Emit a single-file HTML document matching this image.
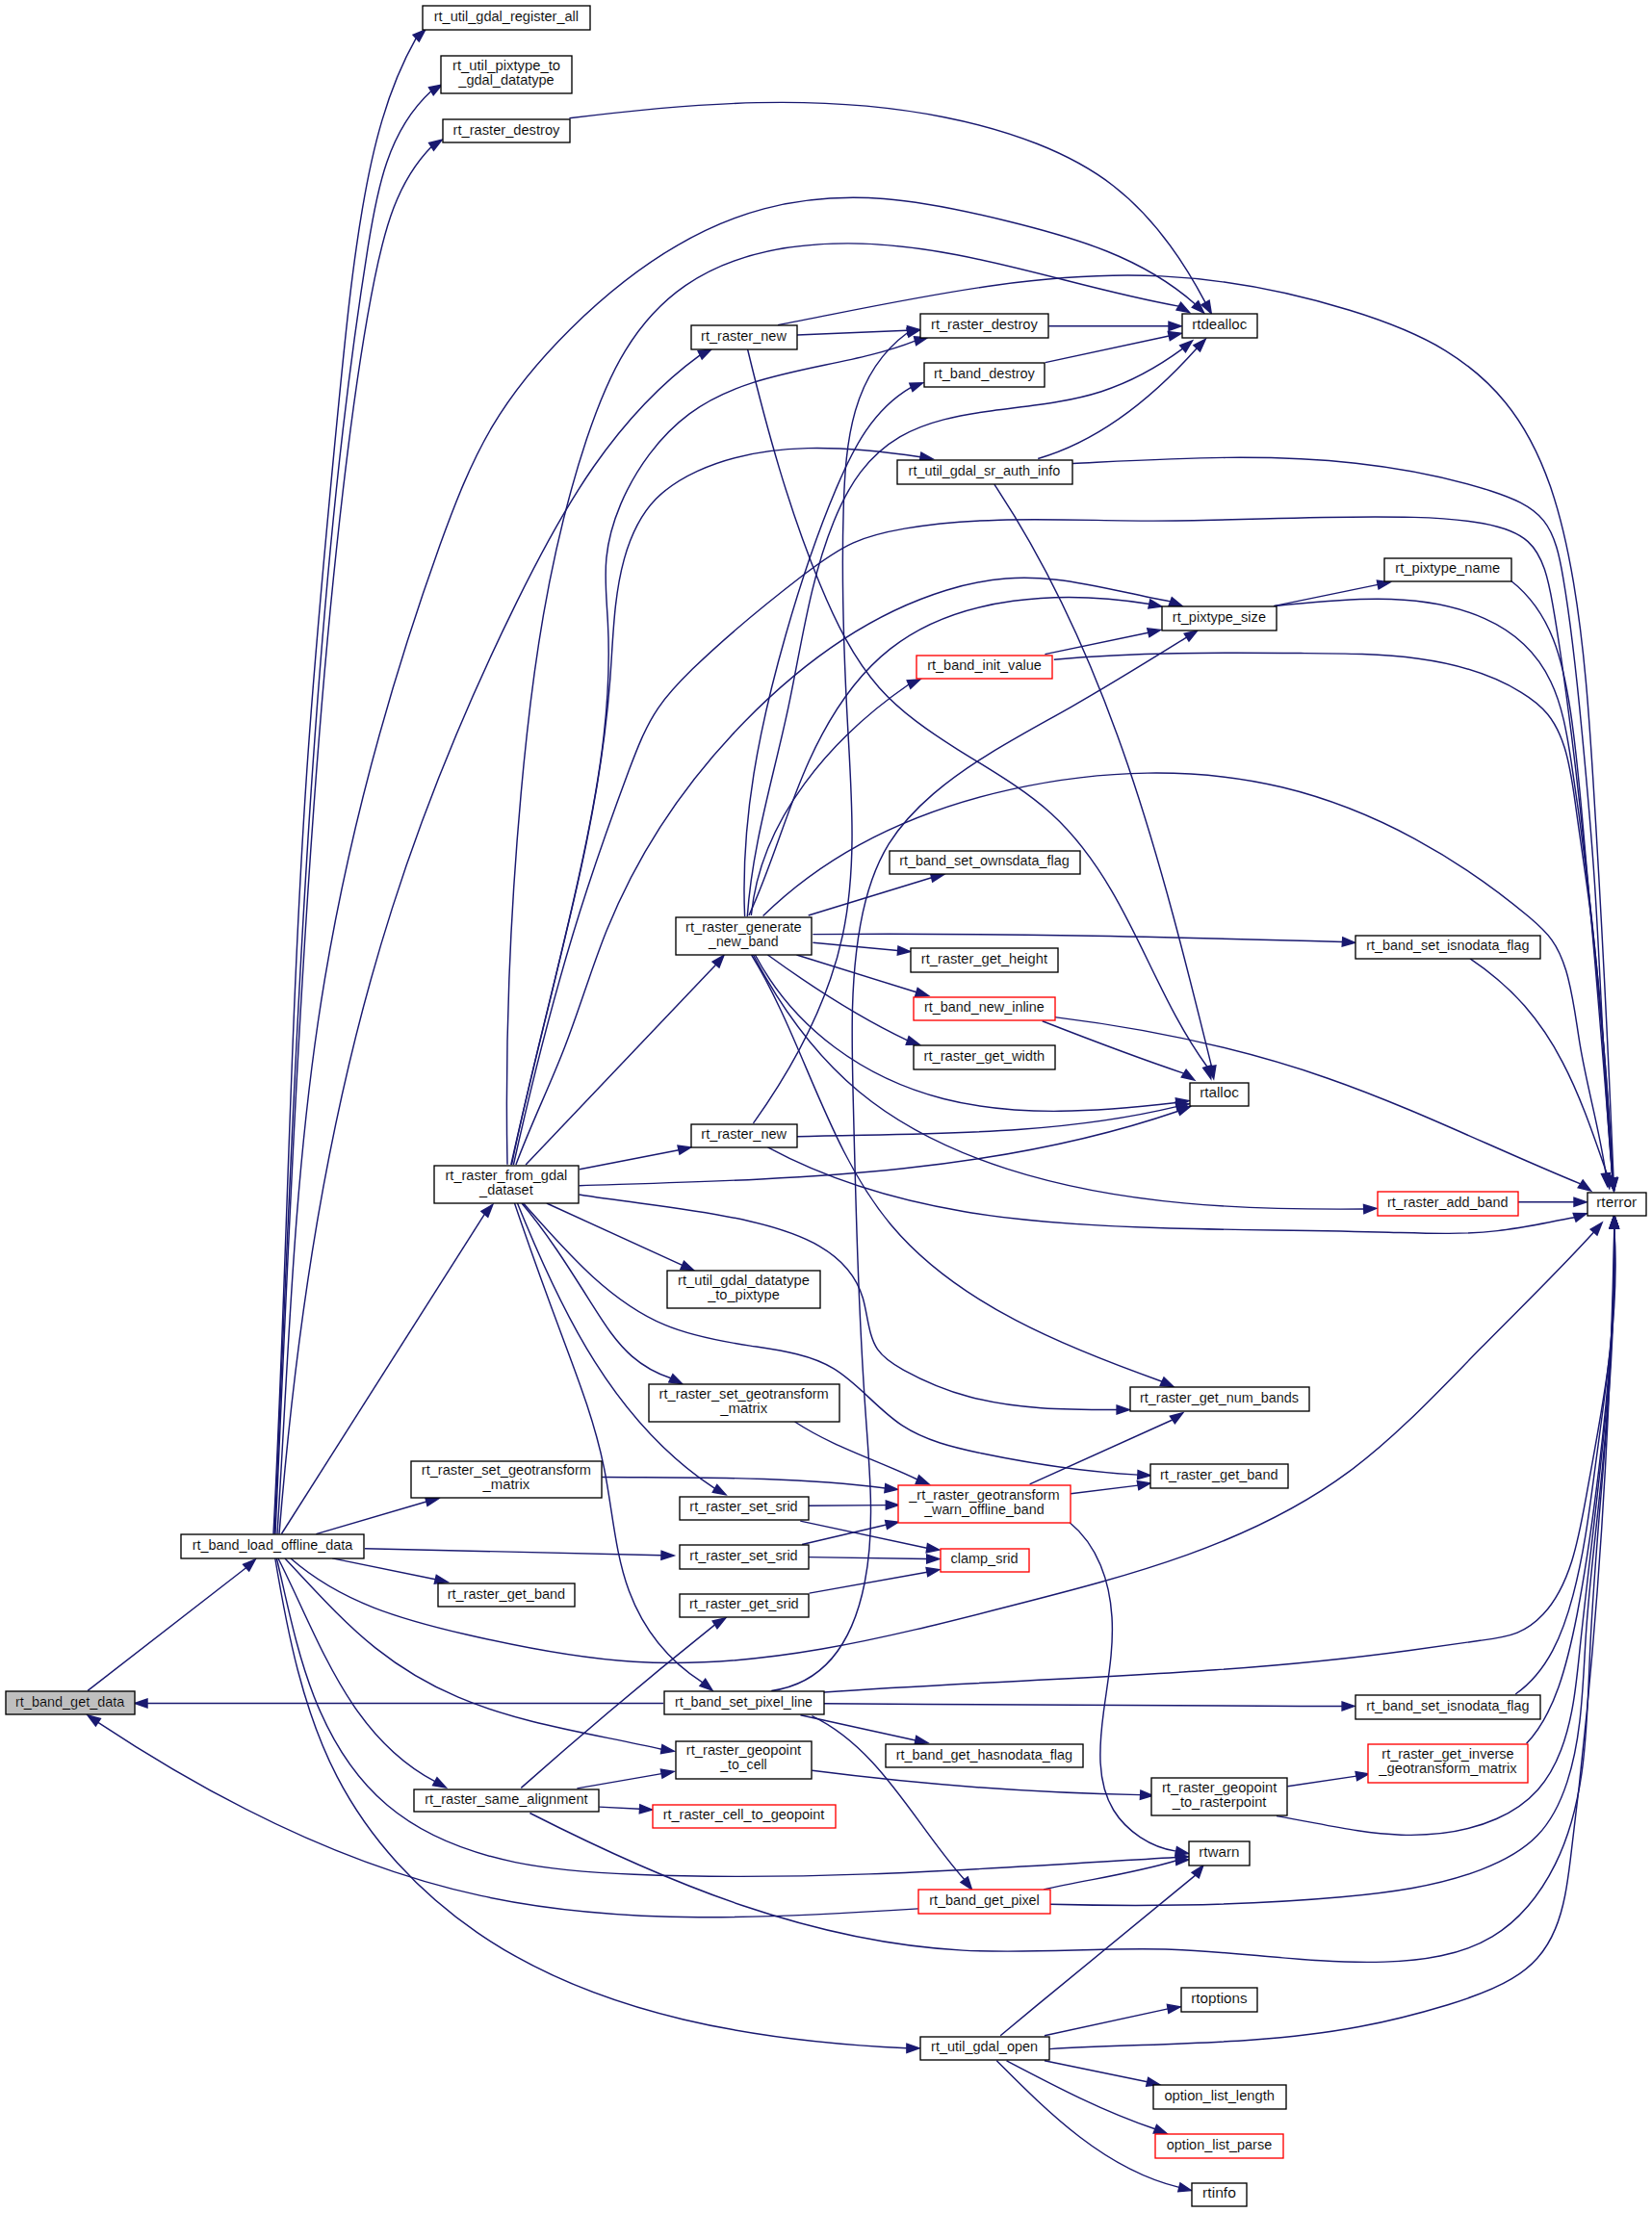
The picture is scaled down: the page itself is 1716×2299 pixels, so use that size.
<!DOCTYPE html><html><head><meta charset="utf-8"><style>html,body{margin:0;padding:0;background:#fff;width:1716px;height:2299px;overflow:hidden}svg{display:block}text{font-family:"Liberation Sans",sans-serif;font-size:15.5px;fill:#000;stroke:#fff;stroke-width:0.12px}</style></head><body>
<svg width="1716" height="2299" viewBox="0 0 1716 2299">
<rect width="1716" height="2299" fill="#fff"/>
<g fill="none" stroke="#191970" stroke-width="1.45">
<path d="M91.1,1756.4 L255.6,1628.7"/>
<path d="M689.1,1769.5 L153.0,1769.5"/>
<path d="M345.2,1618.9 L452.3,1640.7"/>
<path d="M328.4,1593.6 L442.9,1560.0"/>
<path d="M378.9,1608.7 L687.0,1615.7"/>
<path d="M296.0,1619.0 C326.0,1650.8 355.8,1684.6 389.9,1711.9 C416.2,1732.9 445.1,1750.1 476.0,1763.2 C542.2,1791.4 617.9,1801.4 687.2,1817.2"/>
<path d="M289.0,1619.0 C331.7,1703.5 362.4,1803.5 451.8,1850.7"/>
<path d="M599.4,1857.9 L687.2,1842.6"/>
<path d="M622.3,1877.1 L664.5,1879.3"/>
<path d="M1114.2,481.5 C1213.6,476.7 1309.9,470.5 1408.2,481.2 C1455.7,486.4 1503.6,495.5 1548.5,510.0 C1570.0,517.0 1590.8,525.2 1603.4,540.9 C1615.6,556.2 1620.1,578.7 1623.8,600.9 C1633.0,654.6 1638.2,707.4 1643.2,760.2 C1648.2,812.4 1652.9,864.6 1656.4,917.0 C1663.2,1019.2 1665.4,1122.1 1675.0,1224.0"/>
<path d="M1569.7,603.5 C1612.0,636.6 1623.6,687.2 1631.3,738.7 C1639.0,790.0 1642.8,842.1 1647.4,893.8 C1657.2,1004.3 1670.6,1112.6 1675.0,1224.0"/>
<path d="M1323.0,629.6 C1359.7,626.1 1395.0,622.0 1431.7,622.2 C1469.3,622.4 1508.4,627.2 1542.2,642.6 C1557.2,649.3 1571.2,658.2 1582.8,669.2 C1594.6,680.3 1604.0,693.6 1610.9,708.2 C1622.9,733.2 1627.6,762.0 1632.0,790.7 C1654.2,935.9 1667.2,1078.2 1675.0,1224.0"/>
<path d="M1527.0,995.9 C1548.3,1010.2 1567.3,1026.4 1583.5,1044.8 C1599.0,1062.5 1612.0,1082.2 1623.0,1103.3 C1642.6,1140.6 1656.2,1182.2 1669.9,1221.6"/>
<path d="M1576.8,1248.8 L1635.0,1248.8"/>
<path d="M1323.0,629.6 L1431.2,607.4"/>
<path d="M780.3,951.0 C790.1,850.7 863.7,766.3 944.0,711.0"/>
<path d="M792.6,951.6 C864.6,881.0 955.0,841.1 1051.2,819.9 C1143.3,799.5 1240.7,796.2 1331.5,817.8 C1379.5,829.3 1425.8,847.7 1469.8,871.6 C1511.9,894.4 1552.1,922.1 1588.2,952.5 C1596.9,959.9 1605.4,967.4 1611.8,976.3 C1618.6,985.7 1623.2,996.8 1626.7,1008.3 C1634.1,1032.8 1636.9,1059.6 1641.2,1085.4 C1648.8,1130.8 1661.4,1173.1 1668.0,1219.1"/>
<path d="M1085.4,679.6 L1192.8,657.3"/>
<path d="M1094.8,685.2 C1183.5,677.3 1267.1,678.0 1355.1,678.6 C1433.7,679.1 1515.7,679.5 1580.2,719.3 C1590.4,725.5 1600.1,732.8 1607.6,742.0 C1615.6,751.8 1621.1,763.9 1625.1,776.5 C1631.0,795.2 1633.6,814.9 1636.3,834.5 C1642.5,880.2 1649.6,925.0 1654.9,970.3 C1664.8,1054.3 1668.6,1139.7 1675.0,1224.0"/>
<path d="M1032.8,503.2 C1153.5,684.0 1207.0,899.1 1258.5,1107.8"/>
<path d="M776.6,363.0 C796.5,445.2 818.9,527.2 851.6,606.5 C867.7,645.5 886.3,684.0 913.3,714.4 C936.1,740.0 965.0,759.9 995.1,778.8 C1028.5,799.7 1063.4,819.3 1092.0,845.3 C1117.2,868.2 1137.6,896.2 1155.1,926.1 C1190.0,985.7 1213.5,1053.1 1254.0,1108.2"/>
<path d="M1082.7,1060.8 C1131.3,1079.8 1180.1,1098.5 1229.7,1115.1"/>
<path d="M284.0,1593.6 C297.8,1329.6 301.0,1063.8 318.8,800.0 C327.6,670.7 339.8,541.9 352.5,412.4 C359.0,346.8 365.5,281.0 376.5,216.4 C387.0,154.7 401.5,94.2 432.2,39.7"/>
<path d="M285.0,1593.6 C296.6,1335.7 306.2,1077.2 323.3,819.6 C331.7,694.7 341.8,569.9 356.3,445.7 C363.6,383.0 372.1,320.4 382.1,257.4 C391.7,197.0 402.8,136.1 447.8,94.8"/>
<path d="M286.0,1593.6 C297.4,1342.5 307.6,1089.9 325.9,839.2 C334.7,717.0 345.5,595.2 360.7,472.9 C368.3,411.5 376.9,349.9 389.1,289.7 C399.4,238.9 412.1,189.1 448.1,152.4"/>
<path d="M288.0,1593.6 C299.3,1416.8 304.4,1237.7 330.3,1062.0 C355.1,893.4 399.0,728.0 456.8,566.8 C472.2,524.1 488.5,481.6 511.3,443.1 C533.2,406.1 561.2,372.8 592.4,341.9 C649.6,285.4 717.7,237.1 793.7,216.9 C833.9,206.2 876.2,203.4 918.2,206.5 C961.4,209.8 1004.2,219.3 1046.6,229.8 C1116.9,247.1 1186.3,267.0 1241.5,316.0"/>
<path d="M290.0,1593.6 C307.9,1373.6 340.2,1154.1 407.2,944.1 C441.9,835.0 486.0,728.6 536.8,625.4 C584.7,527.9 638.5,433.4 727.2,368.8"/>
<path d="M527.0,1209.8 C524.5,1081.1 529.7,952.4 541.2,824.4 C552.3,700.0 569.5,576.3 609.4,456.1 C620.1,424.1 632.3,392.3 649.5,364.3 C665.9,337.4 686.8,314.0 712.0,296.6 C759.0,264.3 821.1,252.8 881.2,252.9 C999.3,253.1 1110.1,297.8 1224.3,318.1"/>
<path d="M591.4,122.8 C720.8,106.8 852.3,96.1 980.7,121.7 C1013.5,128.2 1046.1,137.2 1077.0,149.3 C1105.7,160.6 1132.9,174.7 1156.7,193.2 C1196.9,224.4 1227.7,268.1 1252.1,314.4"/>
<path d="M530.8,1210.0 C552.9,1110.1 579.3,1010.8 601.3,910.7 C620.4,823.8 636.1,736.3 631.4,647.2 C630.3,624.5 627.7,601.7 629.9,579.6 C631.8,560.5 637.1,542.0 644.7,523.9 C660.2,487.4 685.2,452.9 716.2,429.9 C781.7,381.3 874.4,384.3 950.6,354.1"/>
<path d="M531.5,1210.0 C565.5,1041.1 621.1,877.9 633.8,705.1 C636.9,663.0 637.4,620.3 648.4,580.6 C654.9,557.4 664.9,535.2 681.4,518.3 C693.3,506.1 708.6,496.7 724.6,489.3 C795.6,456.6 881.8,463.8 956.2,474.7"/>
<path d="M828.0,348.0 L942.6,343.3"/>
<path d="M808.0,337.6 C939.3,312.4 1072.9,280.4 1206.4,286.9 C1272.1,290.1 1337.9,302.7 1401.9,322.3 C1436.8,333.0 1471.1,345.7 1501.5,364.3 C1525.0,378.8 1546.2,396.7 1563.4,417.7 C1605.0,468.5 1623.0,537.0 1634.4,604.7 C1645.9,673.5 1650.5,741.4 1654.8,809.8 C1663.4,947.1 1670.3,1086.4 1676.0,1223.9"/>
<path d="M1089.4,338.8 L1214.0,338.8"/>
<path d="M1085.7,376.6 L1214.3,349.0"/>
<path d="M1078.2,476.5 C1144.3,457.3 1198.1,412.3 1243.2,361.8"/>
<path d="M773.6,952.0 C769.2,851.5 788.9,755.1 816.2,659.5 C831.0,607.5 848.1,555.7 869.2,506.1 C886.6,465.1 906.6,425.6 946.4,402.3"/>
<path d="M776.3,952.0 C781.4,877.4 803.4,807.4 818.8,735.2 C832.6,670.3 841.1,603.6 866.0,542.0 C873.4,523.7 882.3,505.8 894.0,490.4 C905.2,475.6 918.9,463.2 934.7,453.9 C962.7,437.6 996.8,431.3 1030.6,426.7 C1069.6,421.4 1108.0,418.3 1144.1,406.7 C1173.9,397.1 1202.1,381.7 1228.6,362.2"/>
<path d="M782.5,1166.9 C824.6,1107.8 860.3,1041.7 875.3,971.6 C890.0,902.8 884.8,830.3 880.8,758.8 C876.5,681.7 873.8,605.9 876.2,528.1 C878.3,458.9 884.5,388.3 942.9,345.5"/>
<path d="M801.3,1756.5 C862.6,1747.9 887.8,1696.9 898.2,1644.0 C909.0,1588.8 903.6,1531.5 899.6,1474.9 C891.5,1361.3 888.9,1250.2 886.1,1136.3 C884.7,1077.5 883.3,1017.9 893.7,960.8 C899.1,931.0 907.8,901.8 923.3,876.7 C935.4,857.1 951.7,840.0 969.6,824.6 C1012.1,788.3 1064.0,762.0 1112.8,734.3 C1153.5,711.2 1192.0,687.2 1232.6,662.1"/>
<path d="M844.4,979.3 L932.6,987.5"/>
<path d="M827.5,992.0 L951.9,1030.8"/>
<path d="M797.5,992.0 C843.6,1025.5 891.1,1056.4 942.7,1080.9"/>
<path d="M844.4,970.6 C1027.8,968.9 1211.2,973.4 1394.5,978.5"/>
<path d="M784.4,992.0 C825.7,1069.7 898.4,1120.5 980.1,1141.5 C1057.9,1161.5 1143.8,1154.4 1221.9,1145.5"/>
<path d="M782.5,992.0 C810.5,1045.9 846.6,1096.0 892.2,1134.0 C936.8,1171.0 990.4,1196.4 1046.3,1214.4 C1165.0,1252.5 1293.9,1257.0 1416.7,1256.0"/>
<path d="M780.6,992.0 C834.7,1080.1 859.4,1193.8 926.0,1273.0 C994.8,1355.0 1108.4,1400.1 1207.1,1435.2"/>
<path d="M827.5,1180.7 C959.4,1177.0 1092.9,1180.6 1222.1,1149.6"/>
<path d="M601.6,1231.7 C810.5,1224.9 1024.3,1222.7 1224.0,1154.2"/>
<path d="M797.5,1191.9 C925.9,1261.1 1071.5,1272.2 1214.9,1276.0 C1291.1,1278.0 1366.6,1278.0 1442.7,1280.2 C1480.4,1281.2 1518.2,1282.9 1555.6,1278.6 C1582.4,1275.5 1609.1,1269.4 1635.7,1264.8"/>
<path d="M1095.5,1056.6 C1192.3,1068.6 1287.8,1088.3 1379.2,1120.2 C1468.5,1151.3 1554.0,1194.0 1641.7,1229.9"/>
<path d="M602.0,1214.7 L705.0,1194.7"/>
<path d="M546.1,1210.0 L743.6,1002.2"/>
<path d="M567.8,1250.0 L708.7,1314.4"/>
<path d="M542.0,1250.0 C569.8,1282.8 592.8,1320.0 615.8,1356.4 C627.9,1375.6 640.0,1394.6 656.6,1409.1 C667.9,1418.9 681.1,1426.5 696.9,1431.8"/>
<path d="M543.6,1250.0 C586.4,1297.9 631.2,1351.4 690.7,1376.4 C718.2,1388.0 748.9,1393.5 779.4,1398.1 C810.1,1402.8 840.7,1406.6 865.7,1421.6 C891.4,1436.9 911.3,1463.9 937.2,1480.9 C961.2,1496.7 990.5,1503.7 1019.4,1509.8 C1073.6,1521.1 1126.5,1529.0 1181.9,1532.1"/>
<path d="M537.5,1250.0 C582.8,1362.3 638.1,1478.1 742.6,1546.4"/>
<path d="M534.5,1250.0 C549.9,1295.5 566.3,1341.0 583.2,1386.2 C600.2,1431.7 617.7,1476.9 627.4,1524.6 C636.2,1567.7 638.6,1612.7 653.4,1652.7 C667.5,1690.6 692.7,1724.0 729.8,1747.9"/>
<path d="M601.6,1241.0 C661.7,1250.7 719.3,1254.9 778.9,1268.7 C829.6,1280.5 881.7,1299.2 896.3,1348.5 C901.4,1366.0 901.9,1387.3 911.5,1401.6 C917.9,1411.0 928.2,1417.5 938.7,1423.3 C960.5,1435.3 983.3,1444.7 1006.8,1451.0 C1056.3,1464.5 1108.7,1464.4 1160.1,1464.5"/>
<path d="M1069.6,1541.9 L1217.9,1475.0"/>
<path d="M1112.1,1551.7 L1182.1,1543.1"/>
<path d="M825.6,1477.0 C865.6,1503.3 910.4,1516.5 952.9,1537.0"/>
<path d="M625.3,1534.5 C723.4,1535.2 822.0,1533.5 919.4,1546.0"/>
<path d="M839.9,1564.3 L920.3,1563.6"/>
<path d="M831.3,1580.1 L962.8,1608.2"/>
<path d="M833.1,1604.5 L920.6,1584.0"/>
<path d="M839.9,1617.6 L962.7,1619.5"/>
<path d="M840.6,1655.1 L962.9,1633.2"/>
<path d="M302.0,1619.0 C354.7,1665.1 418.3,1682.7 484.3,1698.0 C541.3,1711.2 600.0,1722.7 657.9,1726.3 C790.0,1734.6 918.4,1701.9 1048.0,1668.8 C1173.3,1636.8 1299.8,1604.4 1401.5,1528.7 C1450.9,1492.0 1494.4,1445.1 1538.1,1400.6 C1577.7,1360.3 1617.4,1322.0 1655.6,1280.0"/>
<path d="M287.4,1619.0 C298.2,1664.4 307.9,1715.7 326.2,1762.4 C343.3,1806.4 368.1,1846.4 402.2,1875.3 C438.8,1906.3 486.1,1924.5 535.1,1934.6 C575.7,1942.9 617.3,1945.6 658.8,1947.3 C848.0,1954.9 1033.0,1940.6 1221.5,1929.5"/>
<path d="M285.8,1619.0 C298.5,1695.2 314.1,1776.0 350.1,1845.7 C383.8,1910.8 435.4,1966.2 495.7,2007.6 C623.4,2095.4 790.5,2120.7 941.9,2127.8"/>
<path d="M953.8,1982.9 C803.9,1992.5 647.0,2001.3 499.6,1969.4 C357.4,1938.7 224.0,1870.2 101.9,1789.3"/>
<path d="M541.3,1857.4 C606.9,1799.2 674.1,1742.7 742.6,1687.9"/>
<path d="M550.4,1883.5 C622.0,1919.9 694.9,1953.7 771.0,1979.5 C845.0,2004.5 922.1,2021.9 1000.0,2026.1 C1072.1,2030.0 1144.9,2022.7 1217.1,2025.2 C1290.6,2027.7 1363.5,2040.4 1438.0,2038.1 C1477.7,2036.8 1517.9,2031.4 1550.1,2011.9 C1578.3,1994.8 1600.4,1967.0 1615.5,1936.6 C1648.4,1870.3 1648.1,1791.8 1651.6,1715.4 C1658.4,1566.3 1679.4,1425.4 1676.8,1275.7"/>
<path d="M1111.2,1581.7 C1140.3,1605.5 1152.8,1643.3 1155.0,1679.9 C1157.0,1712.4 1151.0,1744.0 1146.5,1777.4 C1141.7,1813.4 1138.8,1851.4 1156.7,1880.5 C1170.2,1902.4 1195.4,1919.2 1221.7,1923.1"/>
<path d="M855.9,1758.0 C1058.2,1743.3 1261.4,1742.3 1462.8,1714.7 C1487.5,1711.4 1512.2,1707.6 1537.4,1704.3 C1550.8,1702.6 1564.4,1701.0 1576.1,1696.2 C1586.5,1691.9 1595.4,1685.1 1602.9,1677.1 C1631.5,1646.4 1639.6,1598.9 1647.9,1553.3 C1665.0,1458.7 1683.0,1372.4 1676.8,1275.7"/>
<path d="M855.9,1769.8 C1035.3,1771.0 1214.7,1772.7 1394.1,1772.4"/>
<path d="M831.5,1781.7 L951.0,1808.0"/>
<path d="M843.4,1782.7 C914.4,1816.6 950.5,1895.5 1001.7,1952.6"/>
<path d="M843.4,1839.3 C956.6,1853.8 1070.5,1862.5 1184.6,1864.6"/>
<path d="M1337.4,1855.8 L1408.9,1845.1"/>
<path d="M1574.2,1760.0 C1608.0,1736.2 1623.5,1697.1 1634.0,1657.1 C1645.6,1613.0 1651.2,1567.7 1657.2,1522.6 C1668.2,1440.6 1680.8,1359.2 1676.8,1275.7"/>
<path d="M1585.6,1811.3 C1601.4,1794.7 1611.3,1774.3 1619.0,1752.5 C1627.4,1728.5 1633.1,1703.0 1638.1,1677.5 C1646.5,1634.0 1652.7,1590.7 1658.2,1547.2 C1669.6,1457.4 1678.2,1366.4 1676.8,1275.7"/>
<path d="M1326.0,1886.6 C1370.4,1893.8 1411.2,1904.8 1455.3,1906.2 C1488.8,1907.3 1524.3,1902.9 1554.5,1889.5 C1570.9,1882.2 1585.8,1872.2 1597.3,1859.4 C1607.9,1847.6 1615.7,1833.2 1621.5,1818.0 C1634.0,1785.4 1637.4,1748.9 1641.1,1712.6 C1656.5,1565.1 1679.1,1423.4 1676.8,1275.7"/>
<path d="M1090.8,1978.3 C1192.7,1980.9 1291.7,1979.9 1393.0,1970.8 C1442.4,1966.3 1492.4,1959.9 1538.3,1942.4 C1560.2,1934.0 1581.2,1923.1 1596.7,1907.1 C1611.4,1891.9 1621.1,1872.0 1627.9,1851.1 C1643.5,1803.3 1644.0,1749.7 1647.4,1697.9 C1650.8,1646.8 1657.1,1597.5 1662.2,1547.4 C1671.4,1457.7 1676.7,1365.6 1676.8,1275.7"/>
<path d="M1084.1,1963.0 C1129.8,1952.6 1176.6,1946.4 1221.5,1933.0"/>
<path d="M1039.2,2114.7 C1106.4,2058.8 1174.1,2003.5 1241.7,1948.1"/>
<path d="M1084.9,2114.7 L1213.2,2086.9"/>
<path d="M1090.3,2128.6 C1197.0,2122.1 1306.8,2125.2 1411.7,2105.5 C1442.6,2099.8 1473.1,2092.0 1503.9,2082.7 C1527.0,2075.6 1550.4,2067.7 1570.3,2055.7 C1580.3,2049.7 1589.4,2042.7 1596.9,2034.2 C1604.8,2025.4 1610.9,2015.0 1615.5,2003.9 C1624.8,1981.8 1628.1,1956.9 1631.2,1932.1 C1658.8,1713.1 1672.4,1495.4 1676.8,1275.7"/>
<path d="M1084.9,2140.8 L1191.7,2162.7"/>
<path d="M1045.5,2140.8 C1095.6,2167.1 1146.0,2193.7 1199.9,2211.7"/>
<path d="M1035.3,2140.8 C1089.7,2195.4 1147.8,2253.6 1224.9,2272.4"/>
<path d="M533.4,1210.0 C554.9,1113.3 579.0,1018.3 609.7,924.3 C623.3,882.6 638.1,841.1 653.3,800.3 C661.8,777.7 670.3,755.3 683.7,735.6 C693.7,720.9 706.3,707.8 719.3,695.1 C755.4,660.0 794.3,628.3 833.9,597.8 C850.7,584.9 867.6,572.3 886.5,563.8 C903.1,556.4 921.3,552.3 939.7,549.1 C1023.2,534.9 1110.1,540.9 1195.3,541.1 C1286.2,541.3 1375.2,534.9 1468.1,537.4 C1492.5,538.1 1517.1,539.4 1540.5,543.7 C1558.3,547.0 1575.5,552.0 1587.1,562.6 C1603.3,577.4 1608.5,603.0 1612.9,628.4 C1616.3,647.7 1619.2,666.8 1622.0,686.0 C1647.9,865.6 1660.6,1043.7 1675.0,1224.0"/>
<path d="M535.9,1210.0 C551.3,1168.2 570.8,1128.9 586.7,1087.5 C602.2,1047.6 614.4,1005.8 630.4,966.1 C663.1,885.1 711.8,812.8 773.2,750.0 C832.3,689.5 903.3,637.8 982.8,613.3 C1003.0,607.1 1023.8,602.7 1044.9,601.0 C1062.3,599.7 1079.9,600.3 1097.5,602.2 C1137.4,606.7 1177.3,618.2 1215.7,624.9"/>
<path d="M777.9,951.0 C801.8,899.9 816.3,843.8 840.3,790.7 C860.6,745.9 887.8,703.1 924.7,674.1 C996.2,617.8 1104.5,613.0 1193.9,627.5"/>
<path d="M839.7,951.0 L967.7,911.7"/>
<path d="M292.4,1593.5 L503.3,1261.4"/>
</g>
<g fill="#191970" stroke="#191970" stroke-width="1.45">
<path d="M265.3,1620.0 L258.7,1632.1 L252.6,1625.3 Z"/>
<path d="M140.0,1769.5 L153.0,1765.0 L153.0,1774.0 Z"/>
<path d="M465.0,1643.6 L451.3,1645.1 L453.3,1636.3 Z"/>
<path d="M455.5,1556.8 L444.0,1564.4 L441.8,1555.6 Z"/>
<path d="M700.0,1616.0 L686.9,1620.2 L687.1,1611.2 Z"/>
<path d="M700.0,1819.2 L686.5,1821.7 L687.9,1812.7 Z"/>
<path d="M463.2,1857.0 L449.6,1854.7 L454.0,1846.7 Z"/>
<path d="M700.0,1840.4 L688.0,1847.1 L686.4,1838.2 Z"/>
<path d="M677.5,1880.0 L664.3,1883.8 L664.8,1874.7 Z"/>
<path d="M1676.5,1236.9 L1670.5,1224.5 L1679.5,1223.5 Z"/>
<path d="M1676.5,1236.9 L1670.5,1224.5 L1679.5,1223.5 Z"/>
<path d="M1676.5,1236.9 L1670.5,1224.5 L1679.5,1223.5 Z"/>
<path d="M1671.7,1234.5 L1665.4,1222.2 L1674.5,1221.0 Z"/>
<path d="M1648.0,1248.8 L1635.0,1253.3 L1635.0,1244.2 Z"/>
<path d="M1444.0,604.9 L1432.1,611.9 L1430.4,603.0 Z"/>
<path d="M955.9,705.8 L945.8,715.2 L942.2,706.8 Z"/>
<path d="M1669.4,1232.0 L1663.5,1219.6 L1672.5,1218.6 Z"/>
<path d="M1205.5,654.4 L1193.9,661.7 L1191.8,652.9 Z"/>
<path d="M1676.5,1236.9 L1670.5,1224.5 L1679.5,1223.5 Z"/>
<path d="M1260.7,1120.6 L1254.0,1108.6 L1262.9,1107.0 Z"/>
<path d="M1257.8,1120.6 L1249.7,1109.5 L1258.4,1106.8 Z"/>
<path d="M1240.7,1122.0 L1227.3,1119.0 L1232.1,1111.3 Z"/>
<path d="M441.8,30.9 L435.3,43.0 L429.1,36.3 Z"/>
<path d="M459.0,88.1 L450.2,98.7 L445.5,90.8 Z"/>
<path d="M459.0,145.3 L450.5,156.2 L445.6,148.5 Z"/>
<path d="M1250.7,325.2 L1238.3,319.2 L1244.7,312.8 Z"/>
<path d="M738.8,363.0 L729.2,372.9 L725.1,364.7 Z"/>
<path d="M1235.6,324.6 L1222.1,322.0 L1226.6,314.2 Z"/>
<path d="M1258.3,325.8 L1248.1,316.6 L1256.1,312.2 Z"/>
<path d="M963.2,350.9 L951.7,358.5 L949.5,349.7 Z"/>
<path d="M969.0,476.9 L955.4,479.2 L956.9,470.2 Z"/>
<path d="M955.6,342.7 L942.8,347.8 L942.4,338.8 Z"/>
<path d="M1676.5,1236.9 L1671.4,1224.1 L1680.5,1223.7 Z"/>
<path d="M1227.0,338.8 L1214.0,343.4 L1214.0,334.2 Z"/>
<path d="M1227.0,346.3 L1215.3,353.5 L1213.3,344.6 Z"/>
<path d="M1252.2,352.4 L1246.5,364.9 L1239.9,358.6 Z"/>
<path d="M958.6,397.8 L948.0,406.6 L944.8,398.1 Z"/>
<path d="M1238.6,353.9 L1231.5,365.7 L1225.7,358.7 Z"/>
<path d="M955.6,342.7 L943.9,350.0 L941.9,341.1 Z"/>
<path d="M1243.6,655.2 L1235.0,665.9 L1230.2,658.2 Z"/>
<path d="M945.6,988.6 L932.3,992.0 L933.0,983.0 Z"/>
<path d="M964.4,1034.4 L950.6,1035.1 L953.2,1026.4 Z"/>
<path d="M955.0,1085.0 L941.2,1085.2 L944.1,1076.6 Z"/>
<path d="M1407.5,979.3 L1394.2,983.0 L1394.8,973.9 Z"/>
<path d="M1234.8,1143.5 L1222.6,1150.0 L1221.3,1141.0 Z"/>
<path d="M1429.7,1255.4 L1416.9,1260.6 L1416.5,1251.5 Z"/>
<path d="M1218.9,1440.6 L1205.2,1439.3 L1209.0,1431.0 Z"/>
<path d="M1234.8,1146.8 L1223.1,1154.1 L1221.1,1145.2 Z"/>
<path d="M1236.2,1149.6 L1225.6,1158.4 L1222.4,1149.9 Z"/>
<path d="M1648.0,1260.6 L1637.1,1269.1 L1634.2,1260.5 Z"/>
<path d="M1652.5,1237.1 L1639.2,1233.7 L1644.2,1226.1 Z"/>
<path d="M717.7,1191.9 L706.0,1199.1 L704.0,1190.2 Z"/>
<path d="M752.0,992.3 L747.0,1005.1 L740.1,999.2 Z"/>
<path d="M720.6,1319.6 L706.9,1318.5 L710.5,1310.2 Z"/>
<path d="M708.5,1437.6 L694.8,1435.9 L698.9,1427.7 Z"/>
<path d="M1194.9,1532.7 L1181.7,1536.6 L1182.1,1527.5 Z"/>
<path d="M753.9,1552.7 L740.3,1550.3 L744.8,1542.4 Z"/>
<path d="M740.0,1756.0 L727.0,1751.4 L732.7,1744.3 Z"/>
<path d="M1173.1,1464.5 L1160.1,1469.0 L1160.1,1460.0 Z"/>
<path d="M1228.7,1467.8 L1220.4,1478.8 L1215.4,1471.2 Z"/>
<path d="M1194.9,1540.8 L1182.9,1547.6 L1181.3,1538.7 Z"/>
<path d="M965.0,1541.9 L951.2,1541.3 L954.6,1532.8 Z"/>
<path d="M932.3,1547.3 L918.9,1550.5 L919.8,1541.5 Z"/>
<path d="M933.3,1563.6 L920.3,1568.1 L920.3,1559.0 Z"/>
<path d="M975.7,1610.1 L962.2,1612.8 L963.5,1603.7 Z"/>
<path d="M933.3,1581.2 L921.6,1588.4 L919.6,1579.5 Z"/>
<path d="M975.7,1619.5 L962.7,1624.0 L962.7,1615.0 Z"/>
<path d="M975.7,1630.7 L963.8,1637.7 L962.1,1628.7 Z"/>
<path d="M1664.1,1270.2 L1659.0,1283.0 L1652.2,1277.1 Z"/>
<path d="M1234.5,1928.8 L1221.8,1934.0 L1221.3,1924.9 Z"/>
<path d="M954.9,2127.8 L941.9,2132.4 L941.9,2123.2 Z"/>
<path d="M91.1,1782.0 L104.4,1785.5 L99.4,1793.0 Z"/>
<path d="M753.6,1681.0 L745.0,1691.8 L740.2,1684.1 Z"/>
<path d="M1676.8,1262.7 L1681.3,1275.7 L1672.2,1275.7 Z"/>
<path d="M1234.5,1925.5 L1220.9,1927.6 L1222.5,1918.7 Z"/>
<path d="M1676.8,1262.7 L1681.3,1275.7 L1672.2,1275.7 Z"/>
<path d="M1407.1,1772.4 L1394.1,1777.0 L1394.1,1767.9 Z"/>
<path d="M963.7,1810.5 L950.1,1812.4 L951.8,1803.5 Z"/>
<path d="M1009.5,1963.0 L998.0,1955.4 L1005.3,1949.9 Z"/>
<path d="M1197.6,1865.4 L1184.4,1869.2 L1184.9,1860.1 Z"/>
<path d="M1421.7,1842.8 L1409.7,1849.5 L1408.1,1840.6 Z"/>
<path d="M1676.8,1262.7 L1681.3,1275.7 L1672.2,1275.7 Z"/>
<path d="M1676.8,1262.7 L1681.3,1275.7 L1672.2,1275.7 Z"/>
<path d="M1676.8,1262.7 L1681.3,1275.7 L1672.2,1275.7 Z"/>
<path d="M1676.8,1262.7 L1681.3,1275.7 L1672.2,1275.7 Z"/>
<path d="M1234.5,1932.0 L1221.9,1937.5 L1221.2,1928.4 Z"/>
<path d="M1249.8,1937.9 L1245.3,1950.9 L1238.1,1945.2 Z"/>
<path d="M1226.0,2084.9 L1213.9,2091.4 L1212.4,2082.4 Z"/>
<path d="M1676.8,1262.7 L1681.3,1275.7 L1672.2,1275.7 Z"/>
<path d="M1204.4,2165.5 L1190.7,2167.2 L1192.7,2158.3 Z"/>
<path d="M1212.0,2216.4 L1198.2,2216.0 L1201.5,2207.5 Z"/>
<path d="M1237.5,2275.6 L1223.8,2276.8 L1226.0,2267.9 Z"/>
<path d="M1676.5,1236.9 L1670.5,1224.5 L1679.5,1223.5 Z"/>
<path d="M1227.9,629.5 L1214.1,629.2 L1217.3,620.6 Z"/>
<path d="M1206.6,630.1 L1192.9,631.9 L1194.8,623.0 Z"/>
<path d="M980.3,908.6 L968.7,916.1 L966.6,907.2 Z"/>
<path d="M511.8,1251.5 L506.8,1264.3 L499.9,1258.4 Z"/>
</g>
<rect x="6" y="1757" width="134" height="24" fill="#bfbfbf" stroke="#000" stroke-width="1.35"/>
<text x="72.7" y="1772.6" text-anchor="middle" textLength="113.3" lengthAdjust="spacingAndGlyphs">rt_band_get_data</text>
<rect x="188" y="1594" width="190" height="25" fill="white" stroke="#000" stroke-width="1.35"/>
<text x="283.0" y="1609.8" text-anchor="middle" textLength="166.6" lengthAdjust="spacingAndGlyphs">rt_band_load_offline_data</text>
<rect x="439" y="6" width="174" height="25" fill="white" stroke="#000" stroke-width="1.35"/>
<text x="525.9" y="21.9" text-anchor="middle" textLength="150.4" lengthAdjust="spacingAndGlyphs">rt_util_gdal_register_all</text>
<rect x="458" y="58" width="136" height="39" fill="white" stroke="#000" stroke-width="1.35"/>
<text x="526.0" y="72.8" text-anchor="middle" textLength="112.1" lengthAdjust="spacingAndGlyphs">rt_util_pixtype_to</text>
<text x="526.0" y="87.8" text-anchor="middle" textLength="99.4" lengthAdjust="spacingAndGlyphs">_gdal_datatype</text>
<rect x="460" y="124" width="132" height="24" fill="white" stroke="#000" stroke-width="1.35"/>
<text x="526.0" y="139.5" text-anchor="middle" textLength="110.8" lengthAdjust="spacingAndGlyphs">rt_raster_destroy</text>
<rect x="451" y="1211" width="150" height="39" fill="white" stroke="#000" stroke-width="1.35"/>
<text x="525.9" y="1226.1" text-anchor="middle" textLength="126.8" lengthAdjust="spacingAndGlyphs">rt_raster_from_gdal</text>
<text x="525.9" y="1241.0" text-anchor="middle" textLength="55.6" lengthAdjust="spacingAndGlyphs">_dataset</text>
<rect x="427" y="1518" width="198" height="38" fill="white" stroke="#000" stroke-width="1.35"/>
<text x="525.9" y="1532.4" text-anchor="middle" textLength="176.2" lengthAdjust="spacingAndGlyphs">rt_raster_set_geotransform</text>
<text x="525.9" y="1547.3" text-anchor="middle" textLength="48.9" lengthAdjust="spacingAndGlyphs">_matrix</text>
<rect x="455" y="1645" width="142" height="24" fill="white" stroke="#000" stroke-width="1.35"/>
<text x="525.9" y="1660.7" text-anchor="middle" textLength="122.5" lengthAdjust="spacingAndGlyphs">rt_raster_get_band</text>
<rect x="430" y="1859" width="192" height="23" fill="white" stroke="#000" stroke-width="1.35"/>
<text x="525.9" y="1874.0" text-anchor="middle" textLength="169.5" lengthAdjust="spacingAndGlyphs">rt_raster_same_alignment</text>
<rect x="718" y="338" width="110" height="25" fill="white" stroke="#000" stroke-width="1.35"/>
<text x="772.5" y="353.9" text-anchor="middle" textLength="88.8" lengthAdjust="spacingAndGlyphs">rt_raster_new</text>
<rect x="956" y="326" width="133" height="25" fill="white" stroke="#000" stroke-width="1.35"/>
<text x="1022.4" y="341.9" text-anchor="middle" textLength="110.8" lengthAdjust="spacingAndGlyphs">rt_raster_destroy</text>
<rect x="1228" y="326" width="78" height="25" fill="white" stroke="#000" stroke-width="1.35"/>
<text x="1266.7" y="341.9" text-anchor="middle" textLength="57.0" lengthAdjust="spacingAndGlyphs">rtdealloc</text>
<rect x="960" y="377" width="125" height="25" fill="white" stroke="#000" stroke-width="1.35"/>
<text x="1022.4" y="392.9" text-anchor="middle" textLength="105.0" lengthAdjust="spacingAndGlyphs">rt_band_destroy</text>
<rect x="932" y="478" width="182" height="25" fill="white" stroke="#000" stroke-width="1.35"/>
<text x="1022.4" y="494.1" text-anchor="middle" textLength="157.6" lengthAdjust="spacingAndGlyphs">rt_util_gdal_sr_auth_info</text>
<rect x="1438" y="580" width="132" height="24" fill="white" stroke="#000" stroke-width="1.35"/>
<text x="1503.7" y="595.2" text-anchor="middle" textLength="108.9" lengthAdjust="spacingAndGlyphs">rt_pixtype_name</text>
<rect x="1207" y="630" width="119" height="25" fill="white" stroke="#000" stroke-width="1.35"/>
<text x="1266.4" y="645.9" text-anchor="middle" textLength="97.2" lengthAdjust="spacingAndGlyphs">rt_pixtype_size</text>
<rect x="952" y="681" width="141" height="24" fill="white" stroke="#ff0000" stroke-width="1.35"/>
<text x="1022.5" y="696.4" text-anchor="middle" textLength="118.7" lengthAdjust="spacingAndGlyphs">rt_band_init_value</text>
<rect x="924" y="884" width="198" height="24" fill="white" stroke="#000" stroke-width="1.35"/>
<text x="1022.5" y="899.3" text-anchor="middle" textLength="176.3" lengthAdjust="spacingAndGlyphs">rt_band_set_ownsdata_flag</text>
<rect x="702" y="953" width="141" height="39" fill="white" stroke="#000" stroke-width="1.35"/>
<text x="772.4" y="967.6" text-anchor="middle" textLength="120.8" lengthAdjust="spacingAndGlyphs">rt_raster_generate</text>
<text x="772.4" y="982.5" text-anchor="middle" textLength="72.6" lengthAdjust="spacingAndGlyphs">_new_band</text>
<rect x="1408" y="972" width="192" height="24" fill="white" stroke="#000" stroke-width="1.35"/>
<text x="1503.9" y="987.3" text-anchor="middle" textLength="169.2" lengthAdjust="spacingAndGlyphs">rt_band_set_isnodata_flag</text>
<rect x="946" y="985" width="153" height="25" fill="white" stroke="#000" stroke-width="1.35"/>
<text x="1022.4" y="1000.8" text-anchor="middle" textLength="131.2" lengthAdjust="spacingAndGlyphs">rt_raster_get_height</text>
<rect x="949" y="1036" width="147" height="24" fill="white" stroke="#ff0000" stroke-width="1.35"/>
<text x="1022.4" y="1051.4" text-anchor="middle" textLength="124.8" lengthAdjust="spacingAndGlyphs">rt_band_new_inline</text>
<rect x="949" y="1086" width="147" height="25" fill="white" stroke="#000" stroke-width="1.35"/>
<text x="1022.4" y="1102.2" text-anchor="middle" textLength="125.6" lengthAdjust="spacingAndGlyphs">rt_raster_get_width</text>
<rect x="1236" y="1125" width="61" height="24" fill="white" stroke="#000" stroke-width="1.35"/>
<text x="1266.5" y="1140.1" text-anchor="middle" textLength="40.7" lengthAdjust="spacingAndGlyphs">rtalloc</text>
<rect x="718" y="1168" width="110" height="24" fill="white" stroke="#000" stroke-width="1.35"/>
<text x="772.7" y="1183.2" text-anchor="middle" textLength="88.8" lengthAdjust="spacingAndGlyphs">rt_raster_new</text>
<rect x="1431" y="1238" width="146" height="25" fill="white" stroke="#ff0000" stroke-width="1.35"/>
<text x="1503.8" y="1253.8" text-anchor="middle" textLength="125.6" lengthAdjust="spacingAndGlyphs">rt_raster_add_band</text>
<rect x="1649" y="1239" width="61" height="24" fill="white" stroke="#000" stroke-width="1.35"/>
<text x="1679.2" y="1254.1" text-anchor="middle" textLength="41.9" lengthAdjust="spacingAndGlyphs">rterror</text>
<rect x="693" y="1320" width="159" height="39" fill="white" stroke="#000" stroke-width="1.35"/>
<text x="772.5" y="1335.2" text-anchor="middle" textLength="136.9" lengthAdjust="spacingAndGlyphs">rt_util_gdal_datatype</text>
<text x="772.5" y="1350.1" text-anchor="middle" textLength="74.6" lengthAdjust="spacingAndGlyphs">_to_pixtype</text>
<rect x="674" y="1438" width="198" height="39" fill="white" stroke="#000" stroke-width="1.35"/>
<text x="772.7" y="1452.8" text-anchor="middle" textLength="176.2" lengthAdjust="spacingAndGlyphs">rt_raster_set_geotransform</text>
<text x="772.7" y="1467.8" text-anchor="middle" textLength="48.9" lengthAdjust="spacingAndGlyphs">_matrix</text>
<rect x="1174" y="1441" width="186" height="25" fill="white" stroke="#000" stroke-width="1.35"/>
<text x="1266.5" y="1456.7" text-anchor="middle" textLength="164.9" lengthAdjust="spacingAndGlyphs">rt_raster_get_num_bands</text>
<rect x="1195" y="1521" width="143" height="25" fill="white" stroke="#000" stroke-width="1.35"/>
<text x="1266.3" y="1536.8" text-anchor="middle" textLength="122.5" lengthAdjust="spacingAndGlyphs">rt_raster_get_band</text>
<rect x="706" y="1555" width="134" height="24" fill="white" stroke="#000" stroke-width="1.35"/>
<text x="772.5" y="1570.1" text-anchor="middle" textLength="112.3" lengthAdjust="spacingAndGlyphs">rt_raster_set_srid</text>
<rect x="933" y="1543" width="179" height="39" fill="white" stroke="#ff0000" stroke-width="1.35"/>
<text x="1022.4" y="1557.8" text-anchor="middle" textLength="156.4" lengthAdjust="spacingAndGlyphs">_rt_raster_geotransform</text>
<text x="1022.4" y="1572.7" text-anchor="middle" textLength="124.5" lengthAdjust="spacingAndGlyphs">_warn_offline_band</text>
<rect x="706" y="1605" width="134" height="25" fill="white" stroke="#000" stroke-width="1.35"/>
<text x="772.5" y="1620.8" text-anchor="middle" textLength="112.3" lengthAdjust="spacingAndGlyphs">rt_raster_set_srid</text>
<rect x="977" y="1609" width="92" height="24" fill="white" stroke="#ff0000" stroke-width="1.35"/>
<text x="1022.5" y="1624.4" text-anchor="middle" textLength="70.1" lengthAdjust="spacingAndGlyphs">clamp_srid</text>
<rect x="706" y="1656" width="134" height="24" fill="white" stroke="#000" stroke-width="1.35"/>
<text x="772.8" y="1671.0" text-anchor="middle" textLength="113.8" lengthAdjust="spacingAndGlyphs">rt_raster_get_srid</text>
<rect x="690" y="1757" width="166" height="24" fill="white" stroke="#000" stroke-width="1.35"/>
<text x="772.5" y="1772.7" text-anchor="middle" textLength="143.2" lengthAdjust="spacingAndGlyphs">rt_band_set_pixel_line</text>
<rect x="1408" y="1761" width="192" height="25" fill="white" stroke="#000" stroke-width="1.35"/>
<text x="1503.9" y="1776.7" text-anchor="middle" textLength="169.2" lengthAdjust="spacingAndGlyphs">rt_band_set_isnodata_flag</text>
<rect x="920" y="1812" width="205" height="24" fill="white" stroke="#000" stroke-width="1.35"/>
<text x="1022.3" y="1827.6" text-anchor="middle" textLength="183.3" lengthAdjust="spacingAndGlyphs">rt_band_get_hasnodata_flag</text>
<rect x="702" y="1809" width="141" height="39" fill="white" stroke="#000" stroke-width="1.35"/>
<text x="772.5" y="1823.4" text-anchor="middle" textLength="119.3" lengthAdjust="spacingAndGlyphs">rt_raster_geopoint</text>
<text x="772.5" y="1838.3" text-anchor="middle" textLength="48.4" lengthAdjust="spacingAndGlyphs">_to_cell</text>
<rect x="1421" y="1812" width="166" height="40" fill="white" stroke="#ff0000" stroke-width="1.35"/>
<text x="1504.0" y="1827.3" text-anchor="middle" textLength="137.4" lengthAdjust="spacingAndGlyphs">rt_raster_get_inverse</text>
<text x="1504.0" y="1842.2" text-anchor="middle" textLength="143.3" lengthAdjust="spacingAndGlyphs">_geotransform_matrix</text>
<rect x="1196" y="1847" width="141" height="39" fill="white" stroke="#000" stroke-width="1.35"/>
<text x="1266.6" y="1861.7" text-anchor="middle" textLength="119.3" lengthAdjust="spacingAndGlyphs">rt_raster_geopoint</text>
<text x="1266.6" y="1876.6" text-anchor="middle" textLength="97.7" lengthAdjust="spacingAndGlyphs">_to_rasterpoint</text>
<rect x="678" y="1875" width="190" height="24" fill="white" stroke="#ff0000" stroke-width="1.35"/>
<text x="772.5" y="1890.1" text-anchor="middle" textLength="167.7" lengthAdjust="spacingAndGlyphs">rt_raster_cell_to_geopoint</text>
<rect x="1235" y="1913" width="63" height="25" fill="white" stroke="#000" stroke-width="1.35"/>
<text x="1266.4" y="1928.5" text-anchor="middle" textLength="42.4" lengthAdjust="spacingAndGlyphs">rtwarn</text>
<rect x="954" y="1963" width="137" height="25" fill="white" stroke="#ff0000" stroke-width="1.35"/>
<text x="1022.5" y="1979.2" text-anchor="middle" textLength="114.7" lengthAdjust="spacingAndGlyphs">rt_band_get_pixel</text>
<rect x="1227" y="2065" width="79" height="25" fill="white" stroke="#000" stroke-width="1.35"/>
<text x="1266.4" y="2080.8" text-anchor="middle" textLength="58.3" lengthAdjust="spacingAndGlyphs">rtoptions</text>
<rect x="956" y="2116" width="134" height="24" fill="white" stroke="#000" stroke-width="1.35"/>
<text x="1022.6" y="2131.4" text-anchor="middle" textLength="111.0" lengthAdjust="spacingAndGlyphs">rt_util_gdal_open</text>
<rect x="1198" y="2166" width="138" height="25" fill="white" stroke="#000" stroke-width="1.35"/>
<text x="1266.7" y="2181.9" text-anchor="middle" textLength="114.6" lengthAdjust="spacingAndGlyphs">option_list_length</text>
<rect x="1200" y="2217" width="133" height="25" fill="white" stroke="#ff0000" stroke-width="1.35"/>
<text x="1266.5" y="2232.9" text-anchor="middle" textLength="109.5" lengthAdjust="spacingAndGlyphs">option_list_parse</text>
<rect x="1238" y="2268" width="57" height="24" fill="white" stroke="#000" stroke-width="1.35"/>
<text x="1266.5" y="2283.3" text-anchor="middle" textLength="34.8" lengthAdjust="spacingAndGlyphs">rtinfo</text>
</svg></body></html>
